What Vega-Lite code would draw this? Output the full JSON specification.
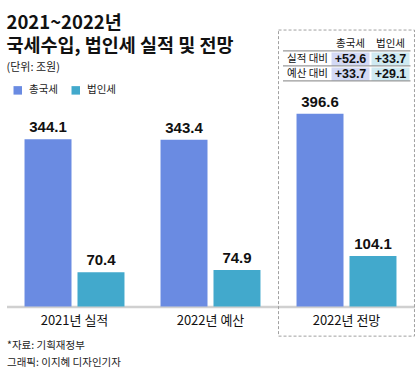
{
  "$schema": "https://vega.github.io/schema/vega-lite/v6.json",
  "width": 408,
  "height": 206.5,
  "autosize": {"type": "none"},
  "padding": {"left": 6.5, "top": 100, "right": 5.5, "bottom": 66.5},
  "background": "white",
  "config": {"view": {"stroke": null}, "font": "Noto Sans CJK KR"},
  "title": {
    "text": ["2021~2022년", "국세수입, 법인세 실적 및 전망"],
    "subtitle": "(단위: 조원)",
    "anchor": "start",
    "frame": "group",
    "font": "Noto Sans CJK KR",
    "fontSize": 18.5,
    "fontWeight": "bold",
    "lineHeight": 23,
    "color": "#111111",
    "subtitleFont": "Noto Sans CJK KR",
    "subtitleFontSize": 11,
    "subtitleColor": "#222222",
    "subtitlePadding": 6,
    "offset": -43
  },
  "datasets": {
    "bars": [
      {"category": "2021년 실적", "series": "총국세", "value": 344.1},
      {"category": "2021년 실적", "series": "법인세", "value": 70.4},
      {"category": "2022년 예산", "series": "총국세", "value": 343.4},
      {"category": "2022년 예산", "series": "법인세", "value": 74.9},
      {"category": "2022년 전망", "series": "총국세", "value": 396.6},
      {"category": "2022년 전망", "series": "법인세", "value": 104.1}
    ],
    "box": [{"category": "2022년 전망"}],
    "table": [
      {"row": "실적 대비", "col": "총국세", "text": "+52.6"},
      {"row": "실적 대비", "col": "법인세", "text": "+33.7"},
      {"row": "예산 대비", "col": "총국세", "text": "+33.7"},
      {"row": "예산 대비", "col": "법인세", "text": "+29.1"}
    ],
    "tableHeader": [{"row": "header", "col": "총국세"}, {"row": "header", "col": "법인세"}],
    "tableRows": [{"row": "header"}, {"row": "실적 대비"}, {"row": "예산 대비"}],
    "rowLabels": [{"row": "실적 대비", "col": "label"}, {"row": "예산 대비", "col": "label"}]
  },
  "layer": [
    {
      "data": {"name": "box"},
      "mark": {"type": "rect", "fillOpacity": 0, "stroke": "#a0a0a0", "strokeWidth": 1, "strokeDash": [3, 2], "width": {"band": 1.36}},
      "encoding": {
        "x": {"field": "category", "type": "nominal", "scale": {"domain": ["2021년 실적", "2022년 예산", "2022년 전망"], "paddingInner": 0.265, "paddingOuter": 0.1325}, "axis": null},
        "y": {"datum": 569, "type": "quantitative", "scale": {"domain": [0, 425], "nice": false}, "axis": null},
        "y2": {"datum": -61}
      }
    },
    {
      "data": {"name": "bars"},
      "mark": {"type": "bar"},
      "encoding": {
        "x": {
          "field": "category",
          "type": "nominal",
          "scale": {"domain": ["2021년 실적", "2022년 예산", "2022년 전망"], "paddingInner": 0.265, "paddingOuter": 0.1325},
          "axis": {
            "title": ["*자료: 기획재정부", "그래픽: 이지혜 디자인기자"],
            "titleAnchor": "start",
            "titleAlign": "left",
            "titleFont": "Noto Sans CJK KR",
            "titleFontSize": 10.5,
            "titleFontWeight": "normal",
            "titleLineHeight": 17,
            "titlePadding": 13,
            "titleColor": "#222222",
            "labelFont": "Noto Sans CJK KR",
            "labelFontSize": 13,
            "labelColor": "#111111",
            "labelPadding": 8,
            "labelAngle": 0,
            "ticks": false,
            "grid": false,
            "domainColor": "#d0d0d0",
            "domainWidth": 2.5
          }
        },
        "xOffset": {"field": "series", "type": "nominal", "scale": {"type": "band", "domain": ["총국세", "법인세"], "paddingInner": 0.113, "paddingOuter": 0}},
        "y": {"field": "value", "type": "quantitative", "scale": {"domain": [0, 425], "nice": false}, "axis": null},
        "color": {
          "field": "series",
          "type": "nominal",
          "scale": {"domain": ["총국세", "법인세"], "range": ["#6a8be2", "#42a9cc"]},
          "legend": {
            "orient": "none",
            "legendX": 6,
            "legendY": -15,
            "direction": "horizontal",
            "title": null,
            "symbolType": "square",
            "symbolSize": 72,
            "symbolStrokeWidth": 0,
            "labelFont": "Noto Sans CJK KR",
            "labelFontSize": 10.5,
            "labelColor": "#222222",
            "labelOffset": 6,
            "columnPadding": 12,
            "padding": 0
          }
        }
      }
    },
    {
      "data": {"name": "bars"},
      "mark": {"type": "text", "baseline": "bottom", "dy": -4, "font": "Liberation Sans", "fontSize": 15, "fontWeight": "bold", "color": "#111111"},
      "encoding": {
        "x": {"field": "category", "type": "nominal", "scale": {"domain": ["2021년 실적", "2022년 예산", "2022년 전망"], "paddingInner": 0.265, "paddingOuter": 0.1325}, "axis": null},
        "xOffset": {"field": "series", "type": "nominal", "scale": {"type": "band", "domain": ["총국세", "법인세"], "paddingInner": 0.113, "paddingOuter": 0}},
        "y": {"field": "value", "type": "quantitative", "scale": {"domain": [0, 425], "nice": false}, "axis": null},
        "text": {"field": "value", "type": "quantitative", "format": ".1f"}
      }
    },
    {
      "data": {"name": "table"},
      "mark": {"type": "rect"},
      "encoding": {
        "x": {"field": "col", "type": "nominal", "scale": {"domain": ["label", "총국세", "법인세"], "range": [284, 404], "paddingInner": 0.05, "paddingOuter": 0.025}, "axis": null},
        "y": {"field": "row", "type": "nominal", "scale": {"domain": ["header", "실적 대비", "예산 대비"], "range": [-63.3, -18.3], "paddingInner": 0.1, "paddingOuter": 0.05}, "axis": null},
        "fill": {"field": "col", "type": "nominal", "scale": {"domain": ["총국세", "법인세"], "range": ["#d3d9f5", "#cfeaf2"]}, "legend": null}
      }
    },
    {
      "data": {"name": "tableRows"},
      "mark": {"type": "rule", "color": "#9a9a9a", "strokeWidth": 1.2},
      "encoding": {
        "y": {"field": "row", "type": "nominal", "bandPosition": 1, "scale": {"domain": ["header", "실적 대비", "예산 대비"], "range": [-63.3, -18.3], "paddingInner": 0.1, "paddingOuter": 0.05}, "axis": null},
        "x": {"datum": 0, "type": "quantitative", "scale": {"domain": [0, 1], "range": [276.5, 404]}, "axis": null},
        "x2": {"datum": 1}
      }
    },
    {
      "data": {"name": "table"},
      "mark": {"type": "text", "font": "Liberation Sans", "fontSize": 12.5, "fontWeight": "bold", "color": "#111111"},
      "encoding": {
        "x": {"field": "col", "type": "nominal", "scale": {"domain": ["label", "총국세", "법인세"], "range": [284, 404], "paddingInner": 0.05, "paddingOuter": 0.025}, "axis": null},
        "y": {"field": "row", "type": "nominal", "scale": {"domain": ["header", "실적 대비", "예산 대비"], "range": [-63.3, -18.3], "paddingInner": 0.1, "paddingOuter": 0.05}, "axis": null},
        "text": {"field": "text"}
      }
    },
    {
      "data": {"name": "tableHeader"},
      "mark": {"type": "text", "fontSize": 10.5, "color": "#111111"},
      "encoding": {
        "x": {"field": "col", "type": "nominal", "scale": {"domain": ["label", "총국세", "법인세"], "range": [284, 404], "paddingInner": 0.05, "paddingOuter": 0.025}, "axis": null},
        "y": {"field": "row", "type": "nominal", "scale": {"domain": ["header", "실적 대비", "예산 대비"], "range": [-63.3, -18.3], "paddingInner": 0.1, "paddingOuter": 0.05}, "axis": null},
        "text": {"field": "col"}
      }
    },
    {
      "data": {"name": "rowLabels"},
      "mark": {"type": "text", "fontSize": 10.5, "align": "center", "dx": -3, "color": "#111111"},
      "encoding": {
        "x": {"field": "col", "type": "nominal", "scale": {"domain": ["label", "총국세", "법인세"], "range": [284, 404], "paddingInner": 0.05, "paddingOuter": 0.025}, "axis": null},
        "y": {"field": "row", "type": "nominal", "scale": {"domain": ["header", "실적 대비", "예산 대비"], "range": [-63.3, -18.3], "paddingInner": 0.1, "paddingOuter": 0.05}, "axis": null},
        "text": {"field": "row"}
      }
    }
  ],
  "resolve": {"scale": {"x": "independent", "y": "independent", "xOffset": "independent"}}
}
